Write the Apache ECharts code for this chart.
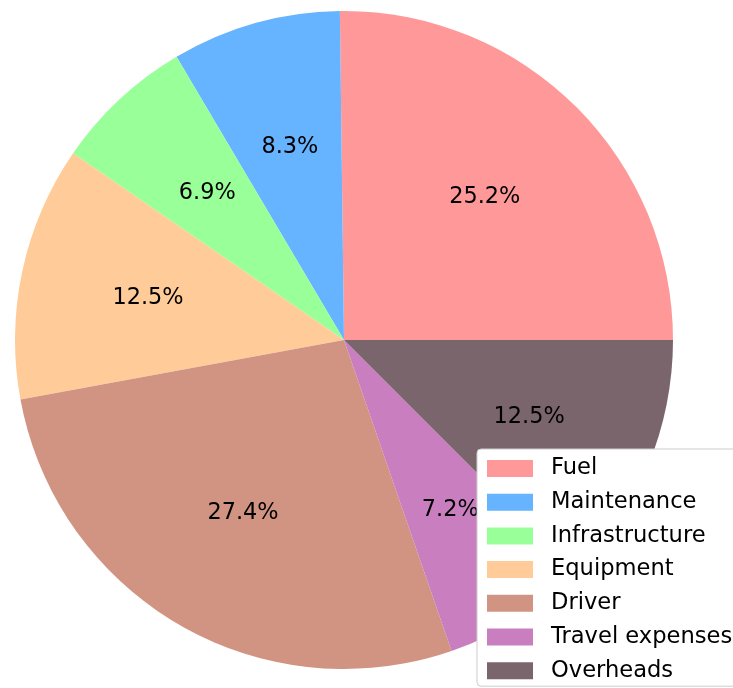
<!DOCTYPE html>
<html>
<head>
<meta charset="utf-8">
<script src="https://cdn.jsdelivr.net/npm/echarts@6/dist/echarts.min.js"></script>
<style>
  html, body { margin: 0; padding: 0; background: #fff; }
  #chart { width: 733px; height: 688px; }
</style>
</head>
<body>
<div id="chart"></div>
<script>
const categories = ['Fuel', 'Maintenance', 'Infrastructure', 'Equipment', 'Driver', 'Travel expenses', 'Overheads']
const shares = [25.2, 8.3, 6.9, 12.5, 27.4, 7.2, 12.5]
const colors = ['#ff9999', '#66b3ff', '#99ff99', '#ffcc99', '#d19482', '#c97fbf', '#7a656c']

const font = 'DejaVu Sans'
const R = 329

const chart = echarts.init(document.getElementById('chart'))

const slices = categories.map((name, i) => ({
  name,
  value: shares[i],
  itemStyle: { color: colors[i] }
}))

chart.setOption({
  animation: false,
  legend: {
    orient: 'vertical',
    left: 477,
    top: 449,
    icon: 'rect',
    itemWidth: 46,
    itemHeight: 17,
    itemGap: 10.7,
    padding: [8, 10, 4, 10],
    borderColor: '#cccccc',
    borderWidth: 1,
    borderRadius: 4,
    backgroundColor: '#ffffff',
    textStyle: { fontFamily: font, fontSize: 22.6, color: '#000', padding: [0, 0, 0, 13] },
    data: categories.map((name, i) => ({ name, itemStyle: { color: colors[i] } }))
  },
  series: [
    {
      type: 'pie',
      center: [344, 340],
      radius: [0, R],
      startAngle: 0,
      clockwise: false,
      silent: true,
      label: { show: false },
      labelLine: { show: false },
      itemStyle: { borderWidth: 0 },
      data: slices
    },
    {
      // transparent ring so inside labels sit at 0.6 of the radius
      type: 'pie',
      center: [344, 340],
      radius: [R * 0.2, R],
      startAngle: 0,
      clockwise: false,
      silent: true,
      z: 3,
      itemStyle: { color: 'rgba(0,0,0,0)', borderWidth: 0 },
      label: {
        show: true,
        position: 'inside',
        fontFamily: font,
        fontSize: 22.4,
        color: '#000',
        formatter: p => p.value.toFixed(1) + '%'
      },
      labelLine: { show: false },
      data: categories.map((name, i) => ({ name, value: shares[i] }))
    }
  ]
})
</script>
</body>
</html>
